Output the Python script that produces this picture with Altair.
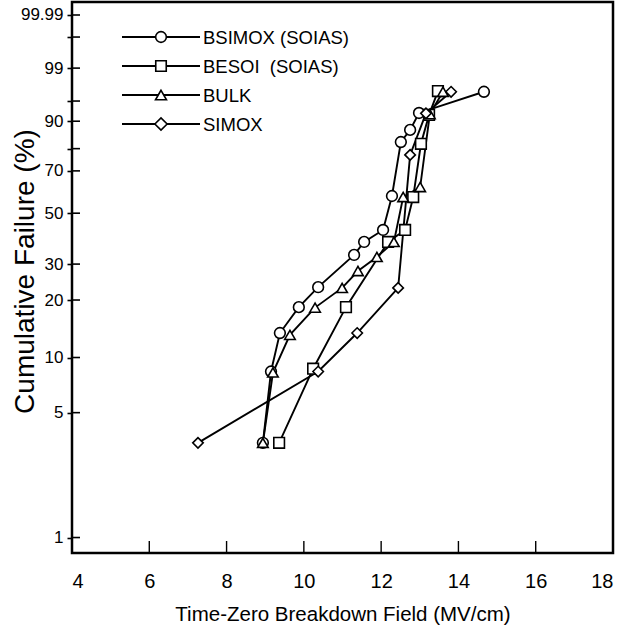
import altair as alt
import pandas as pd
import numpy as np

# ---- data ----
series_names = ["BSIMOX (SOIAS)", "BESOI\u00a0 (SOIAS)", "BULK", "SIMOX"]
series_shapes = ["circle", "square", "triangle-up", "diamond"]
series_sizes = [115, 110, 120, 150]

bsimox_field = [8.94, 9.15, 9.38, 9.87, 10.37, 11.30, 11.56, 12.05, 12.28, 12.51, 12.75, 12.98, 14.66]
bsimox_fail = [3.4, 8.4, 13.5, 18.4, 23.2, 33.1, 37.9, 42.7, 58.0, 82.7, 87.2, 92.3, 96.6]

besoi_field = [9.36, 10.24, 11.09, 12.18, 12.62, 12.83, 13.03, 13.24, 13.47]
besoi_fail = [3.4, 8.7, 18.4, 37.9, 42.7, 57.5, 82.0, 91.8, 96.7]

bulk_field = [8.94, 9.20, 9.64, 10.29, 10.99, 11.40, 11.89, 12.33, 12.57, 13.01, 13.26, 13.60]
bulk_fail = [3.4, 8.3, 13.2, 18.3, 23.0, 27.8, 32.4, 37.9, 57.5, 62.3, 92.0, 96.6]

simox_field = [7.26, 10.37, 11.38, 12.44, 12.75, 13.16, 13.81]
simox_fail = [3.4, 8.4, 13.5, 23.0, 77.3, 92.2, 96.6]

x_ticks = [4, 6, 8, 10, 12, 14, 16, 18]
y_major = [1, 5, 10, 20, 30, 50, 70, 90, 99, 99.99]
y_minor = [80, 95, 99.9]


def weib(p):
    return float(np.log(-np.log(1 - np.asarray(p) / 100.0)))


rows = []
for name, xs, fs in zip(series_names,
                        [bsimox_field, besoi_field, bulk_field, simox_field],
                        [bsimox_fail, besoi_fail, bulk_fail, simox_fail]):
    for i, (xv, fv) in enumerate(zip(xs, fs)):
        rows.append({"series": name, "field": xv, "fail": fv, "idx": i})
df = pd.DataFrame(rows)

y_all = sorted(y_major + y_minor)
y_tick_vals = [weib(p) for p in y_all]
tick_df = pd.DataFrame({"t": y_tick_vals})
xtick_df = pd.DataFrame({"x": x_ticks[1:-1]})

Y_DOMAIN = [-4.802, 2.390]
FONT = "Liberation Sans, Arial, Helvetica, sans-serif"

major_js = "[" + ",".join(str(v) for v in y_major) + "]"
label_expr = (
    "indexof(" + major_js + ", round(100*(1-exp(-exp(datum.value)))*100)/100) >= 0 ? "
    "'' + round(100*(1-exp(-exp(datum.value)))*100)/100 : ''"
)

x_enc = alt.X(
    "field:Q",
    scale=alt.Scale(domain=[4, 18], nice=False, zero=False),
    axis=alt.Axis(
        values=x_ticks, ticks=False, domain=False, grid=False,
        labelFontSize=20, labelFont=FONT, labelColor="black", labelPadding=18,
        title="Time-Zero Breakdown Field (MV/cm)", titleFont=FONT, titleFontSize=20.5,
        titleFontWeight="normal", titleColor="black",
        titleBaseline="alphabetic", titleY=67, titleX=270.5,
    ),
)
y_enc = alt.Y(
    "t:Q",
    scale=alt.Scale(domain=Y_DOMAIN, nice=False, zero=False),
    axis=alt.Axis(
        values=y_tick_vals, labelExpr=label_expr, ticks=True, tickSize=5,
        tickWidth=1.6, tickColor="black", domain=False, grid=False,
        labelFontSize=17, labelFont=FONT, labelColor="black", labelPadding=4,
        title="Cumulative Failure (%)", titleFont=FONT, titleFontSize=28,
        titleFontWeight="normal", titleColor="black", titleAngle=-90,
        titleBaseline="alphabetic", titleX=-39, titleY=269,
    ),
)

base = alt.Chart(df).transform_calculate(
    t="log(-log(1 - datum.fail/100))"
)

lines = base.mark_line(color="black", strokeWidth=1.9).encode(
    x=x_enc, y=y_enc, detail="series:N", order="idx:Q"
)
points = base.mark_point(filled=False, fill="white", fillOpacity=1,
                         stroke="black", strokeWidth=1.6, opacity=1).encode(
    x="field:Q", y="t:Q",
    shape=alt.Shape("series:N", scale=alt.Scale(domain=series_names, range=series_shapes), legend=None),
    size=alt.Size("series:N", scale=alt.Scale(domain=series_names, range=series_sizes), legend=None),
)

yticks_in = alt.Chart(tick_df).mark_rule(color="black", strokeWidth=1.6).encode(
    y="t:Q", x=alt.value(0), x2=alt.value(8)
)
xticks_in = alt.Chart(xtick_df).mark_rule(color="black", strokeWidth=1.4).encode(
    x="x:Q", y=alt.value(551), y2=alt.value(539)
)

legend_layers = []
row_y = [35, 64, 93, 122]
for name, shp, sz, ry in zip(series_names, series_shapes, series_sizes, row_y):
    ldf = pd.DataFrame({"series": [name]})
    lc = alt.Chart(ldf)
    legend_layers.append(lc.mark_rule(color="black", strokeWidth=1.9).encode(
        x=alt.value(50), x2=alt.value(128), y=alt.value(ry)))
    legend_layers.append(lc.mark_point(filled=False, fill="white", fillOpacity=1,
                                       stroke="black", strokeWidth=1.6, opacity=1,
                                       shape=shp, size=sz).encode(
        x=alt.value(89), y=alt.value(ry)))
    legend_layers.append(lc.mark_text(align="left", baseline="middle", font=FONT,
                                      fontSize=18.5, color="black").encode(
        x=alt.value(131), y=alt.value(ry + 1), text="series:N"))

chart = alt.layer(lines, points, yticks_in, xticks_in, *legend_layers).properties(
    width=541, height=551,
    autosize=alt.AutoSizeParams(type="none"),
    padding={"left": 72, "top": 2, "right": 12, "bottom": 84},
    background="white",
).configure_view(stroke="black", strokeWidth=2.5)

chart.save("out.html", embed_options={"renderer": "svg", "actions": False})
